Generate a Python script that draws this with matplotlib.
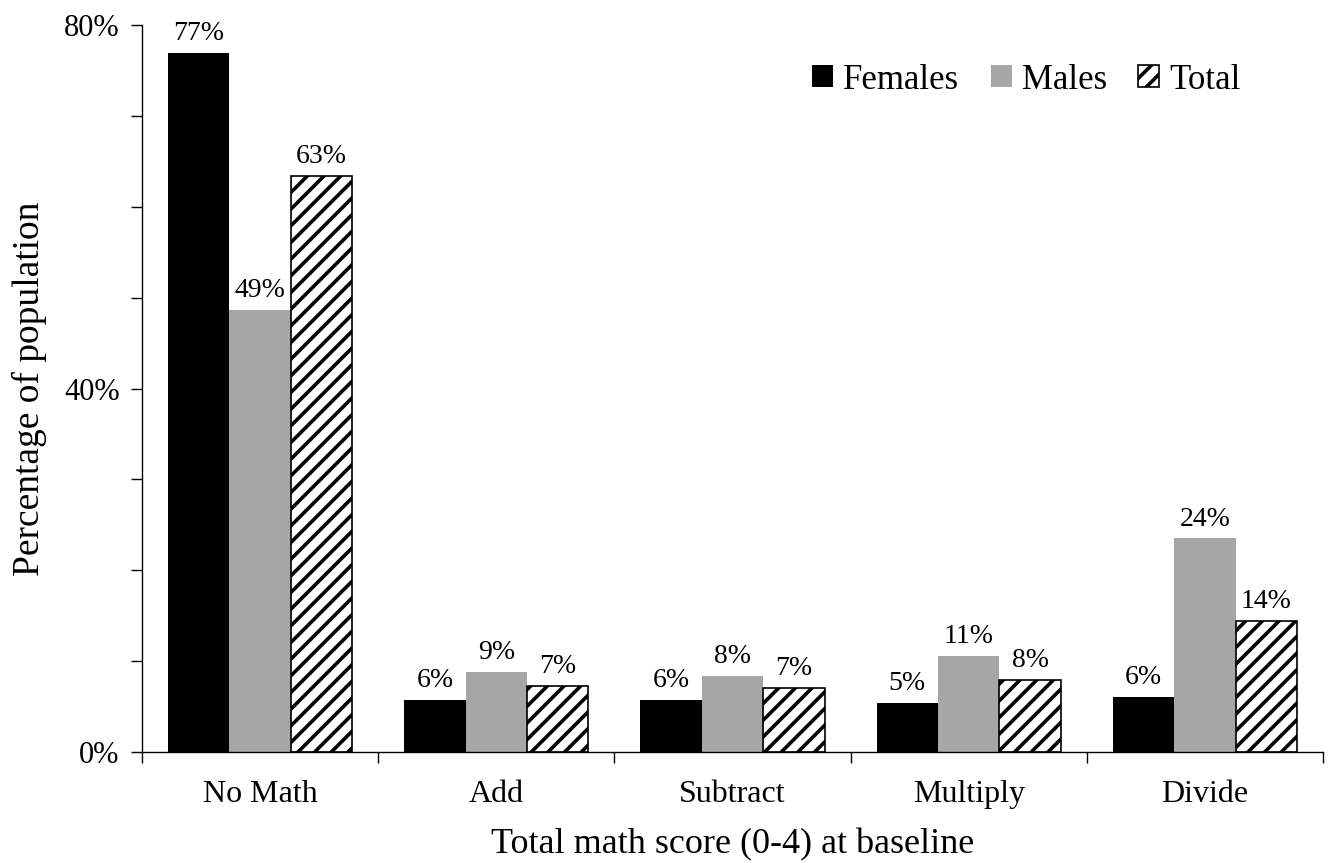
import numpy as np
import matplotlib.pyplot as plt

plt.rcParams['font.family'] = ['Liberation Serif', 'DejaVu Serif']
plt.rcParams['hatch.linewidth'] = 2.6

# baseline math score distribution (% of population)
categories = ['No Math', 'Add', 'Subtract', 'Multiply', 'Divide']
females = [76.9, 5.7, 5.7, 5.4, 6.1]
males = [48.6, 8.8, 8.4, 10.6, 23.5]
total = [63.4, 7.3, 7.0, 7.9, 14.4]

fig = plt.figure(figsize=(13.34, 8.63), dpi=100)
ax = fig.add_axes([0.1064, 0.1286, 0.8854, 0.8424])

x = np.arange(len(categories))
w = 0.26

b1 = ax.bar(x - w, females, w, color='black', label='Females')
b2 = ax.bar(x, males, w, color='#a6a6a6', label='Males')
b3 = ax.bar(x + w, total, w, color='white', edgecolor='black', hatch='//',
            linewidth=1.2, label='Total')

for bars in (b1, b2, b3):
    for b in bars:
        h = b.get_height()
        ax.annotate(f'{h:.0f}%', xy=(b.get_x() + b.get_width() / 2, h),
                    xytext=(0, 5), textcoords='offset points',
                    ha='center', va='bottom', fontsize=20)

ax.set_xlim(-0.5, len(categories) - 0.5)
ax.set_ylim(0, 80)
ax.set_yticks(np.arange(0, 81, 10))
ax.set_yticklabels([f'{v}%' if v % 40 == 0 else '' for v in range(0, 81, 10)])
ax.set_xticks(x)
ax.set_xticklabels(categories)
ax.set_xticks(np.arange(-0.5, len(categories), 1), minor=True)
ax.tick_params(axis='x', which='major', length=0, pad=20, labelsize=23)
ax.tick_params(axis='x', which='minor', length=8, width=1)
ax.tick_params(axis='y', length=8, width=1, labelsize=22, pad=8)

for s in ['top', 'right']:
    ax.spines[s].set_visible(False)
for s in ['left', 'bottom']:
    ax.spines[s].set_linewidth(1)

ax.set_xlabel('Total math score (0-4) at baseline', fontsize=26, labelpad=14)
ax.set_ylabel('Percentage of population', fontsize=27, labelpad=12)

ax.legend(loc='upper right', bbox_to_anchor=(0.957, 0.99), ncol=3, frameon=False,
          fontsize=25, handlelength=0.6, handleheight=0.6, handletextpad=0.3,
          columnspacing=0.9)

plt.savefig('out.png', dpi=100)
